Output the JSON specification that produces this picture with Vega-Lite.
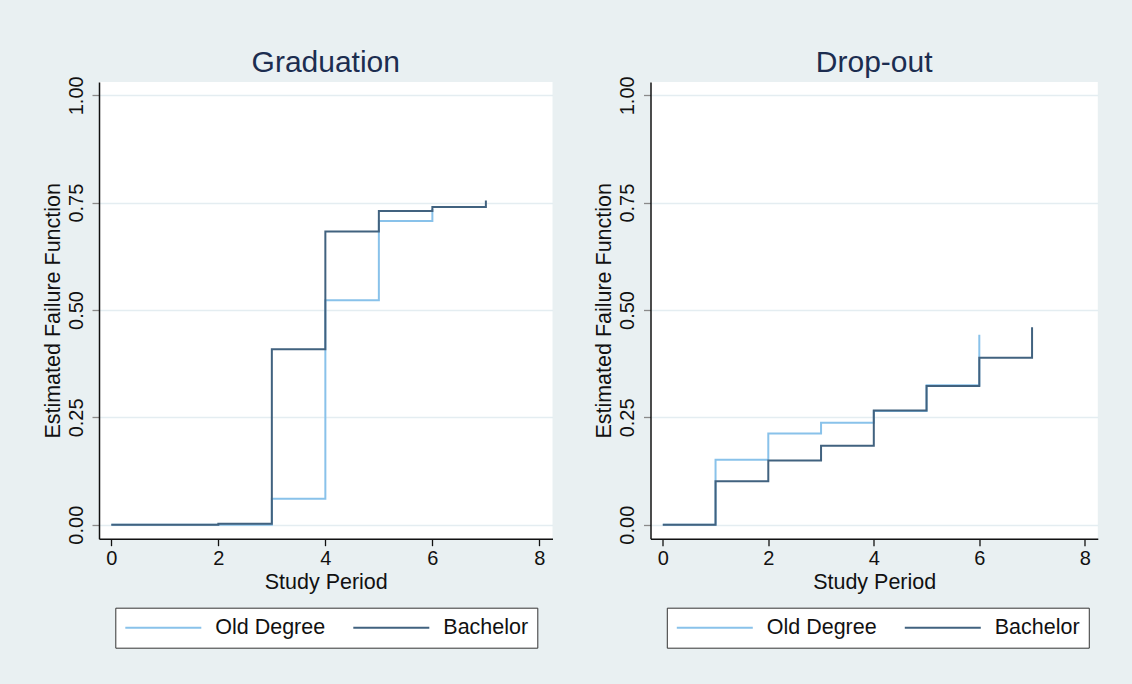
{
  "$schema": "https://vega.github.io/schema/vega-lite/v6.json",
  "background": "#e9f0f2",
  "padding": {"left": 41, "top": 47, "right": 40, "bottom": 40},
  "data": {
    "values": [
      {"p": "Graduation", "g": "Old Degree", "t": 0, "f": 0},
      {"p": "Graduation", "g": "Old Degree", "t": 3, "f": 0.0605},
      {"p": "Graduation", "g": "Old Degree", "t": 4, "f": 0.523},
      {"p": "Graduation", "g": "Old Degree", "t": 5, "f": 0.707},
      {"p": "Graduation", "g": "Old Degree", "t": 6, "f": 0.735},
      {"p": "Graduation", "g": "Bachelor", "t": 0, "f": 0},
      {"p": "Graduation", "g": "Bachelor", "t": 2, "f": 0.002},
      {"p": "Graduation", "g": "Bachelor", "t": 3, "f": 0.4085},
      {"p": "Graduation", "g": "Bachelor", "t": 4, "f": 0.683},
      {"p": "Graduation", "g": "Bachelor", "t": 5, "f": 0.7305},
      {"p": "Graduation", "g": "Bachelor", "t": 6, "f": 0.74},
      {"p": "Graduation", "g": "Bachelor", "t": 7, "f": 0.755},
      {"p": "Drop-out", "g": "Old Degree", "t": 0, "f": 0},
      {"p": "Drop-out", "g": "Old Degree", "t": 1, "f": 0.151},
      {"p": "Drop-out", "g": "Old Degree", "t": 2, "f": 0.2126},
      {"p": "Drop-out", "g": "Old Degree", "t": 3, "f": 0.2376},
      {"p": "Drop-out", "g": "Old Degree", "t": 4, "f": 0.265},
      {"p": "Drop-out", "g": "Old Degree", "t": 5, "f": 0.325},
      {"p": "Drop-out", "g": "Old Degree", "t": 6, "f": 0.4425},
      {"p": "Drop-out", "g": "Bachelor", "t": 0, "f": 0},
      {"p": "Drop-out", "g": "Bachelor", "t": 1, "f": 0.1014},
      {"p": "Drop-out", "g": "Bachelor", "t": 2, "f": 0.1495},
      {"p": "Drop-out", "g": "Bachelor", "t": 3, "f": 0.1839},
      {"p": "Drop-out", "g": "Bachelor", "t": 4, "f": 0.2657},
      {"p": "Drop-out", "g": "Bachelor", "t": 5, "f": 0.323},
      {"p": "Drop-out", "g": "Bachelor", "t": 6, "f": 0.3888},
      {"p": "Drop-out", "g": "Bachelor", "t": 7, "f": 0.46}
    ]
  },
  "spacing": 39.5,
  "resolve": {"scale": {"color": "independent"}, "legend": {"color": "independent"}},
  "hconcat": [
    {
      "title": "Graduation",
      "width": 453.5,
      "height": 456.7,
      "transform": [{"filter": "datum.p == 'Graduation'"}],
      "encoding": {
        "x": {"field": "t", "type": "quantitative", "title": "Study Period",
              "scale": {"domain": [-0.23, 8.245], "nice": false, "zero": false},
              "axis": {"values": [0, 2, 4, 6, 8], "grid": false}},
        "y": {"field": "f", "type": "quantitative", "title": "Estimated Failure Function",
              "scale": {"domain": [-0.0326, 1.031], "nice": false, "zero": false},
              "axis": {"values": [0, 0.25, 0.5, 0.75, 1], "format": ".2f", "grid": true}},
        "color": {"field": "g", "type": "nominal",
                  "scale": {"domain": ["Old Degree", "Bachelor"], "range": ["#89c2ea", "#41627f"]},
                  "legend": {"orient": "none", "legendX": 16.3, "legendY": 525.7}}
      },
      "layer": [
        {"transform": [{"filter": "datum.g == 'Old Degree'"}],
         "mark": {"type": "line", "interpolate": "step-after", "strokeWidth": 2}},
        {"transform": [{"filter": "datum.g == 'Bachelor'"}],
         "mark": {"type": "line", "interpolate": "step-after", "strokeWidth": 2}}
      ]
    },
    {
      "title": "Drop-out",
      "width": 447.3,
      "height": 456.7,
      "transform": [{"filter": "datum.p == 'Drop-out'"}],
      "encoding": {
        "x": {"field": "t", "type": "quantitative", "title": "Study Period",
              "scale": {"domain": [-0.233, 8.246], "nice": false, "zero": false},
              "axis": {"values": [0, 2, 4, 6, 8], "grid": false}},
        "y": {"field": "f", "type": "quantitative", "title": "Estimated Failure Function",
              "scale": {"domain": [-0.0326, 1.031], "nice": false, "zero": false},
              "axis": {"values": [0, 0.25, 0.5, 0.75, 1], "format": ".2f", "grid": true}},
        "color": {"field": "g", "type": "nominal",
                  "scale": {"domain": ["Old Degree", "Bachelor"], "range": ["#89c2ea", "#41627f"]},
                  "legend": {"orient": "none", "legendX": 16.3, "legendY": 525.7}}
      },
      "layer": [
        {"transform": [{"filter": "datum.g == 'Old Degree'"}],
         "mark": {"type": "line", "interpolate": "step-after", "strokeWidth": 2}},
        {"transform": [{"filter": "datum.g == 'Bachelor'"}],
         "mark": {"type": "line", "interpolate": "step-after", "strokeWidth": 2}}
      ]
    }
  ],
  "config": {
    "font": "Liberation Sans",
    "view": {"fill": "white", "stroke": null},
    "title": {"fontSize": 30, "fontWeight": "normal", "color": "#1c2d50", "baseline": "alphabetic", "offset": -2, "anchor": "middle"},
    "axis": {
      "domainColor": "#111111", "domainWidth": 1.5,
      "tickColor": "#111111", "tickSize": 7, "tickWidth": 1.3,
      "labelFont": "Liberation Sans", "labelFontSize": 20, "labelColor": "#111111",
      "titleFont": "Liberation Sans", "titleFontSize": 21.5, "titleFontWeight": "normal", "titleColor": "#111111",
      "gridColor": "#e4edf1", "gridWidth": 1.5
    },
    "axisX": {"labelPadding": 3, "titlePadding": 3},
    "axisY": {"labelAngle": 270, "labelAlign": "center", "labelBaseline": "bottom", "labelPadding": 6, "tickColor": "#8a8a8a", "titlePadding": 2},
    "legend": {
      "title": null, "direction": "horizontal", "columns": 2, "columnPadding": 27,
      "symbolType": "stroke", "symbolSize": 5776, "symbolStrokeWidth": 2, "clipHeight": 21.5,
      "labelFont": "Liberation Sans", "labelFontSize": 21.5, "labelColor": "#111111", "labelOffset": 13,
      "padding": 9, "strokeColor": "#333333", "fillColor": "white", "cornerRadius": 0
    }
  }
}
